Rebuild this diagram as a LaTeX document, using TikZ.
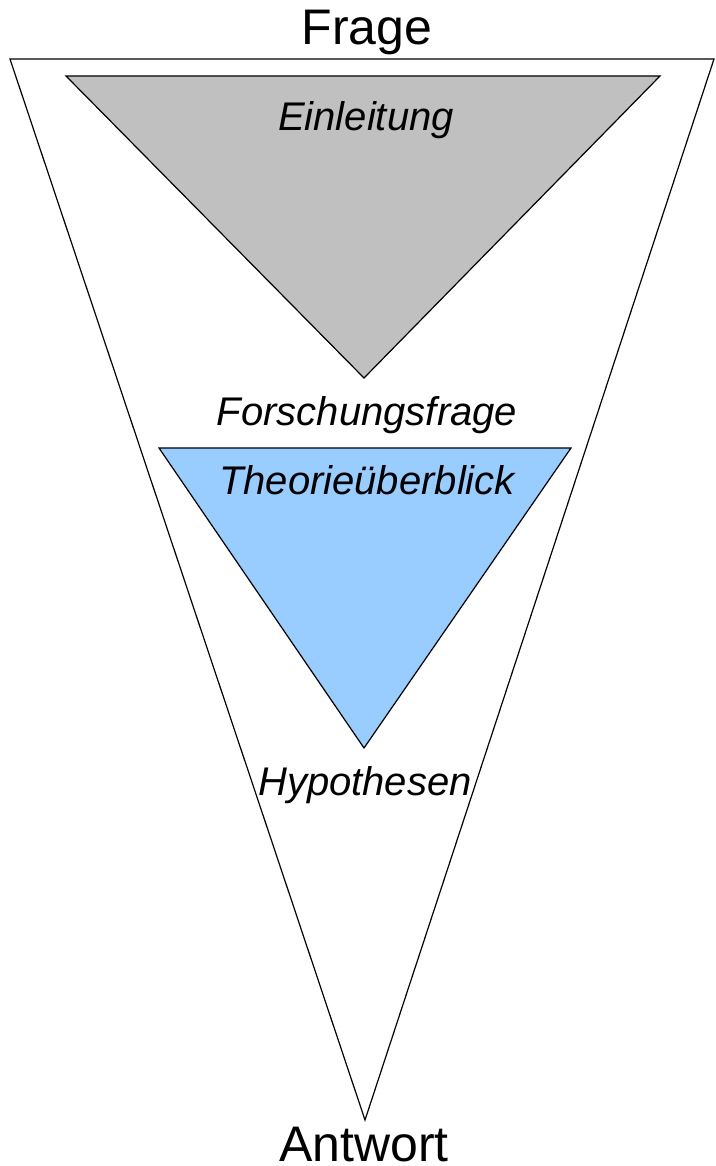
\documentclass[tikz,border=0pt]{standalone}
\usepackage{fontspec}
\setmainfont{Liberation Sans}
\begin{document}
\begin{tikzpicture}[x=1pt,y=-1pt,
  tri/.style={draw=black,line width=1.2pt,line join=miter},
  big/.style={font=\fontsize{50}{56}\selectfont,anchor=base,inner sep=0pt},
  lab/.style={font=\fontsize{40}{46}\selectfont\itshape,anchor=base,inner sep=0pt}]
\useasboundingbox (0,0) rectangle (715,1166);
% outer funnel
\coordinate (oL) at (10,59);
\coordinate (oR) at (714,59);
\coordinate (oB) at (365,1120);
\draw[tri,fill=white] (oL) -- (oR) -- (oB) -- cycle;
% grey triangle
\coordinate (gL) at (66,76);
\coordinate (gR) at (660,76);
\coordinate (gB) at (364,378);
\draw[tri,fill={rgb,255:red,192;green,192;blue,192}] (gL) -- (gR) -- (gB) -- cycle;
% blue triangle
\coordinate (bL) at (159,448);
\coordinate (bR) at (571,448);
\coordinate (bB) at (364,748);
\draw[tri,fill={rgb,255:red,153;green,204;blue,255}] (bL) -- (bR) -- (bB) -- cycle;
% texts
\node[big] (frage) at (367,45) {Frage};
\node[big] (antwort) at (364,1161) {Antwort};
\node[lab] (einl) at (366,131) {Einleitung};
\node[lab] (ff) at (367,425) {Forschungsfrage};
\node[lab] (theo) at (367,494) {Theorieüberblick};
\node[lab] (hyp) at (365,795) {Hypothesen};
\end{tikzpicture}
\end{document}
